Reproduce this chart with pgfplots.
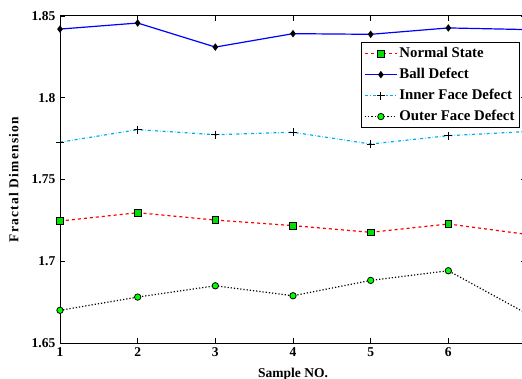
\documentclass[border=0pt]{standalone}
\usepackage{pgfplots}
\pgfplotsset{compat=1.18}
\usepackage{fontspec}
\setmainfont{Liberation Serif}
\newfontfamily\ylabfont[LetterSpace=9]{Liberation Serif}
\newcommand{\chartfont}{\fontsize{13.5}{15}\selectfont\bfseries}
\newcommand{\ylabelfont}{\ylabfont\fontsize{13.5}{15}\selectfont\bfseries}
\newcommand{\legfont}{\fontsize{14.8}{17}\selectfont\bfseries}
\begin{document}
\chartfont
\begin{tikzpicture}
\begin{axis}[
  name=ax,
  scale only axis,
  width=466pt, height=327pt,
  xmin=1, xmax=7, ymin=1.65, ymax=1.85,
  xtick={1,2,3,4,5,6},
  ytick={1.65,1.7,1.75,1.8,1.85},
  yticklabels={1.65,1.7,1.75,1.8,1.85},
  /pgf/number format/assume math mode=true,
  tick label style={font=\chartfont},
  xlabel style={font=\chartfont, yshift=-2pt},
  ylabel style={font=\ylabelfont, yshift=4pt},
  major tick length=5pt,
  tick style={black, line width=0.8pt},
  axis line style={line width=1pt},
  xlabel={Sample NO.},
  ylabel={Fractal Dimension},
  legend style={at={(rel axis cs:0.6456,0.92)}, anchor=north west,
    font=\legfont, line width=1pt,
    row sep=4.5pt, inner sep=3pt},
  legend cell align=left,
  clip=true,
]
\addplot[color=red, draw=red, dashed, line width=1.2pt, mark=square*, mark size=3.3pt,
  mark options={solid, fill=green!80!black!60!green, draw=black, line width=0.8pt},
  legend image code/.code={%
    \draw[draw=red, dashed, line width=1.2pt] (0cm,0cm) -- (1.12cm,0cm);
    \draw[draw=black, solid, line width=0.8pt] plot[only marks, mark=square*, mark size=3.3pt,
      mark options={solid, fill=green!80!black!60!green, draw=black, line width=0.8pt}] coordinates {(0.56cm,0cm)};}]
  coordinates {(1,1.7246) (2,1.7297) (3,1.7252) (4,1.7218) (5,1.7177) (6,1.7228) (7,1.7165)};
\addlegendentry{Normal State}
\addplot[color=blue, draw=blue, solid, line width=1.2pt, mark=diamond*, mark size=2.8pt,
  mark options={solid, fill=black, draw=black},
  legend image code/.code={%
    \draw[draw=blue, solid, line width=1.2pt] (0cm,0cm) -- (1.12cm,0cm);
    \draw[draw=black, solid] plot[only marks, mark=diamond*, mark size=2.8pt,
      mark options={solid, fill=black, draw=black}] coordinates {(0.56cm,0cm)};}]
  coordinates {(1,1.8420) (2,1.8457) (3,1.8310) (4,1.8392) (5,1.8388) (6,1.8427) (7,1.8417)};
\addlegendentry{Ball Defect}
\addplot[color=cyan, draw=cyan, dash dot, line width=1.2pt, mark=+, mark size=4pt,
  mark options={solid, draw=black, line width=1pt},
  legend image code/.code={%
    \draw[draw=cyan, dash dot, line width=1.2pt] (0cm,0cm) -- (1.12cm,0cm);
    \draw[draw=black, solid, line width=1pt] plot[only marks, mark=+, mark size=4pt,
      mark options={solid, draw=black, line width=1pt}] coordinates {(0.56cm,0cm)};}]
  coordinates {(1,1.7728) (2,1.7805) (3,1.7774) (4,1.7789) (5,1.7717) (6,1.7768) (7,1.7793)};
\addlegendentry{Inner Face Defect}
\addplot[color=black, draw=black, dotted, line width=1.2pt, mark=*, mark size=3.2pt,
  mark options={solid, fill=green, draw=black, line width=0.8pt},
  legend image code/.code={%
    \draw[draw=black, dotted, line width=1.2pt] (0cm,0cm) -- (1.12cm,0cm);
    \draw[draw=black, solid, line width=0.8pt] plot[only marks, mark=*, mark size=3.2pt,
      mark options={solid, fill=green, draw=black, line width=0.8pt}] coordinates {(0.56cm,0cm)};}]
  coordinates {(1,1.6700) (2,1.6781) (3,1.6850) (4,1.6789) (5,1.6883) (6,1.6942) (7,1.6682)};
\addlegendentry{Outer Face Defect}
\end{axis}
\pgfresetboundingbox
\path[use as bounding box] ([xshift=-60pt,yshift=-35pt]ax.south west) rectangle ([xshift=-4pt,yshift=16pt]ax.north east);
\end{tikzpicture}
\end{document}
